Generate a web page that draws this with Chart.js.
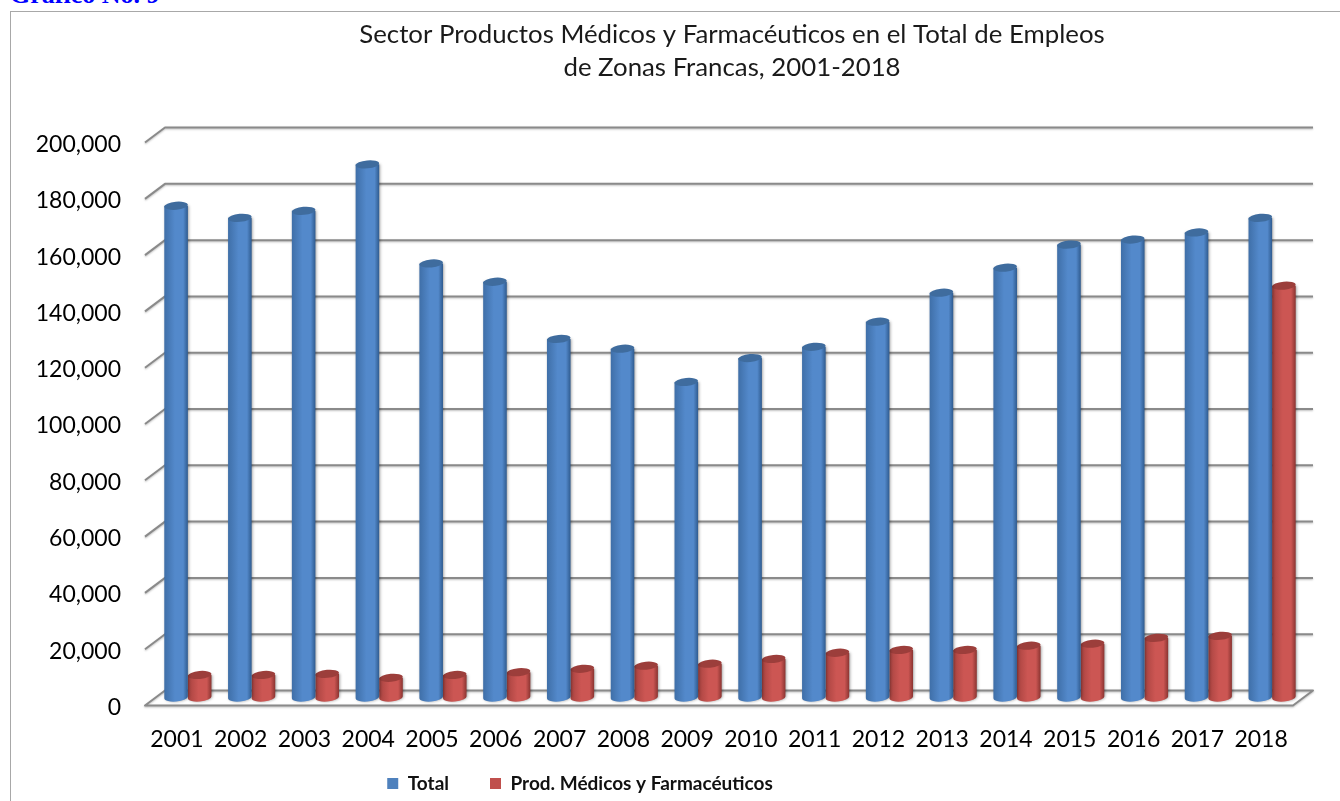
<!DOCTYPE html>
<html lang="es">
<head>
<meta charset="utf-8">
<title>Gráfico No. 9</title>
<script src="https://cdn.jsdelivr.net/npm/chart.js@4"></script>
<style>
html,body{margin:0;padding:0;background:#fff;width:1340px;height:801px;overflow:hidden}
#frame{position:absolute;left:10px;top:11px;width:1340px;height:900px;border:1.5px solid #a8a8a8;box-sizing:border-box}
#head{position:absolute;left:10px;top:-19px;font:bold 26px/28px "Liberation Serif",serif;color:#0000ff;white-space:nowrap}
canvas{position:absolute;left:0;top:0}
</style>
</head>
<body>
<div id="frame"></div>
<div id="head">Gráfico No. 9</div>
<canvas id="c" width="1340" height="801"></canvas>
<script>
const categories = ['2001','2002','2003','2004','2005','2006','2007','2008','2009','2010','2011','2012','2013','2014','2015','2016','2017','2018'];
const totalEmpleos = [174700,170400,172900,189400,154200,147700,127400,123900,112100,120600,124600,133500,143800,152700,160900,162700,165200,170400];
const prodMedicos = [8000,8000,8400,7000,8000,9000,10200,11300,12000,13700,15900,16900,16900,18400,19100,21200,21900,146300];
const titleLines = ['Sector Productos Médicos y Farmacéuticos en el Total de Empleos','de Zonas Francas, 2001-2018'];
const seriesNames = ['Total','Prod. Médicos y Farmacéuticos'];

const SHIFT_X = 11, SHIFT_Y = -8, DEPTH_X = 20, DEPTH_Y = 15;
const looks = {
  '#4f81bd': {edgeL:'#3f6fa8', mid:'#5389cb', edgeR:'#2f5b8f', cap:'#3f6c9e'},
  '#c0504d': {edgeL:'#a84340', mid:'#cc5653', edgeR:'#8a3431', cap:'#9c3e3b'}
};

// Bars are drawn as cylinders from the geometry the library computed for each element.
Chart.BarElement.prototype.draw = function (ctx) {
  const x = this.x + SHIFT_X, top = this.y + SHIFT_Y, base = this.base + SHIFT_Y, w = this.width;
  const l = x - w / 2, r = x + w / 2, rx = w / 2, ry = 4, tilt = -0.09;
  const look = looks[this.options.backgroundColor];
  const g = ctx.createLinearGradient(l, 0, r, 0);
  g.addColorStop(0, look.edgeL); g.addColorStop(.45, look.mid); g.addColorStop(.8, look.mid); g.addColorStop(1, look.edgeR);
  ctx.save();
  ctx.shadowColor = 'rgba(0,0,0,.35)'; ctx.shadowBlur = 3; ctx.shadowOffsetX = 1; ctx.shadowOffsetY = 0;
  ctx.fillStyle = g;
  ctx.beginPath();
  ctx.moveTo(l, top);
  ctx.lineTo(l, base);
  ctx.ellipse(x, base, rx, ry, tilt, Math.PI, 0, true);
  ctx.lineTo(r, top);
  ctx.closePath();
  ctx.fill();
  ctx.shadowColor = 'transparent';
  ctx.fillStyle = look.cap;
  ctx.beginPath();
  ctx.ellipse(x, top, rx, ry, tilt, 0, Math.PI * 2);
  ctx.fill();
  ctx.restore();
};

const wallPlugin = {
  id: 'wall',
  afterLayout(chart) {
    const t = chart.titleBlock; t.left = 171;
    const lg = chart.legend; lg.left = -83; lg.right = 1243; lg.top += 2; lg.bottom += 2;
    chart.scales.x.bottom = 765;
  },
  beforeDatasetsDraw(chart) {
    const ctx = chart.ctx, ys = chart.scales.y, a = chart.chartArea;
    ctx.save();
    ctx.lineWidth = 2; ctx.strokeStyle = '#8a8a8a'; ctx.lineJoin = 'round';
    ctx.shadowColor = 'rgba(0,0,0,.25)'; ctx.shadowBlur = 2; ctx.shadowOffsetY = 1;
    ys.ticks.forEach(tk => {
      const y = ys.getPixelForValue(tk.value);
      ctx.beginPath();
      ctx.moveTo(a.left, y);
      ctx.lineTo(a.left + DEPTH_X, y - DEPTH_Y);
      ctx.lineTo(a.right + DEPTH_X, y - DEPTH_Y);
      if (tk.value === 0) { ctx.lineTo(a.right, y); ctx.closePath(); }
      ctx.stroke();
    });
    ctx.restore();
  }
};

new Chart(document.getElementById('c'), {
  type: 'bar',
  plugins: [wallPlugin],
  data: {
    labels: categories,
    datasets: [
      {label: seriesNames[0], data: totalEmpleos, backgroundColor: '#4f81bd', clip: false},
      {label: seriesNames[1], data: prodMedicos, backgroundColor: '#c0504d', clip: false}
    ]
  },
  options: {
    responsive: false,
    animation: false,
    layout: {padding: {left: 0, right: 47, top: 0, bottom: 0}},
    datasets: {bar: {barPercentage: 1, categoryPercentage: .74}},
    plugins: {
      tooltip: {enabled: false},
      title: {
        display: true, text: titleLines, color: '#1a1a1a',
        font: {family: 'Lato', size: 25.8, weight: 'normal', lineHeight: 1.27},
        padding: {top: 18.5, bottom: 58.5}
      },
      legend: {
        position: 'bottom',
        labels: {
          boxWidth: 11, boxHeight: 11, padding: 41, color: '#111',
          font: {family: 'Lato', size: 19, weight: 'bold'}
        }
      }
    },
    scales: {
      x: {
        grid: {display: false, drawTicks: false}, border: {display: false},
        ticks: {color: '#000', padding: 20, maxRotation: 0, autoSkip: false, font: {family: 'Lato', size: 23}},
        afterFit(s) { s.height = 25.5; }
      },
      y: {
        min: 0, max: 200000,
        grid: {display: false, drawTicks: false}, border: {display: false},
        ticks: {stepSize: 20000, color: '#000', padding: 24, labelOffset: 2, font: {family: 'Lato', size: 23},
          callback: v => v.toLocaleString('en-US')},
        afterFit(s) { s.width = 145; }
      }
    }
  }
});
</script>
</body>
</html>
